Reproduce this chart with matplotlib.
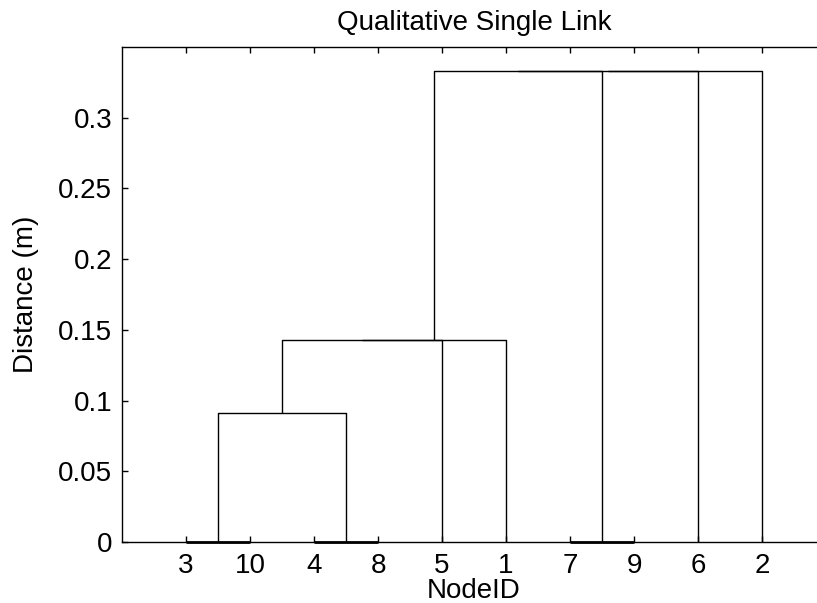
import matplotlib
matplotlib.use('Agg')
import matplotlib.pyplot as plt

# Leaf order along the x axis (node ids as shown)
leaf_order = [3, 10, 4, 8, 5, 1, 7, 9, 6, 2]

# Linkage rows, MATLAB style: clusters made here get ids 11, 12, ...
link_a = [3, 4, 7, 11, 14, 15, 16, 17, 18]
link_b = [10, 8, 9, 12, 5, 1, 13, 6, 2]
link_h = [0.0, 0.0, 0.0, 0.0909, 0.1429, 0.1429, 0.3333, 0.3333, 0.3333]

y_ticks = [0, 0.05, 0.1, 0.15, 0.2, 0.25, 0.3]
y_tick_labels = ['0', '0.05', '0.1', '0.15', '0.2', '0.25', '0.3']

plt.rcParams['font.family'] = ['Liberation Sans', 'DejaVu Sans']
font_size = 20

fig = plt.figure(figsize=(8.17, 6.03), dpi=100)
W, H = 817.0, 603.0
ax = fig.add_axes([122 / W, (H - 542) / H, 704 / W, 495 / H])

# x position and height for each node
node_x = {}
node_h = {}
for pos, leaf in enumerate(leaf_order, start=1):
    node_x[leaf] = pos
    node_h[leaf] = 0.0

n_leaves = len(leaf_order)
for i in range(len(link_a)):
    a, b, h = link_a[i], link_b[i], link_h[i]
    xa, xb = node_x[a], node_x[b]
    lw = 2.0 if h == 0 else 1.0  # zero-height links sit on the axis and look heavier
    ax.plot([xa, xa, xb, xb], [node_h[a], h, h, node_h[b]],
            color='black', lw=lw, clip_on=False, solid_capstyle='butt', zorder=3)
    new_id = n_leaves + 1 + i
    node_x[new_id] = (xa + xb) / 2.0
    node_h[new_id] = h

ax.set_xlim(0, n_leaves + 1)
ax.set_ylim(0, max(link_h) * 1.05)

ax.set_xticks(range(1, n_leaves + 1))
ax.set_xticklabels([str(v) for v in leaf_order])
ax.set_yticks(y_ticks)
ax.set_yticklabels(y_tick_labels)

ax.tick_params(axis='both', direction='in', length=4.5, width=1.0,
               labelsize=font_size, top=True, right=False)
ax.tick_params(axis='y', pad=7)
ax.tick_params(axis='x', pad=8)
for sp in ax.spines.values():
    sp.set_linewidth(1.0)
ax.spines['right'].set_visible(False)

ax.set_title('Qualitative Single Link', fontsize=font_size, pad=12)
ax.set_xlabel('NodeID', fontsize=font_size, labelpad=-1)
ax.set_ylabel('Distance (m)', fontsize=font_size, labelpad=14)

plt.savefig('out.png', dpi=100)
